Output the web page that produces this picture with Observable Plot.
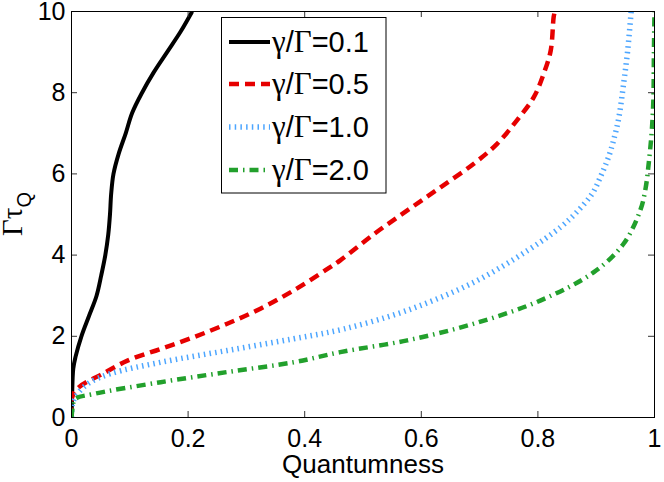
<!DOCTYPE html>
<html>
<head>
<meta charset="utf-8">
<script src="https://cdn.jsdelivr.net/npm/d3@7"></script>
<script src="https://cdn.jsdelivr.net/npm/@observablehq/plot@0.6"></script>
<style>
  body { margin: 0; background: #fff; }
  #chart { width: 664px; height: 482px; }
</style>
</head>
<body>
<div id="chart"></div>
<script>
// ---- data ----
const xTicks = [0, 0.2, 0.4, 0.6, 0.8, 1];
const xTickLabels = ["0", "0.2", "0.4", "0.6", "0.8", "1"];
const yTicks = [0, 2, 4, 6, 8, 10];
const seriesLabels = ["0.1", "0.5", "1.0", "2.0"];
const seriesColors = ["#000000", "#e60000", "#4da6ff", "#22a02c"];

const q_01   = [0, 0.001, 0.003, 0.007, 0.017, 0.030, 0.043, 0.051, 0.058, 0.063, 0.066, 0.068, 0.072, 0.081, 0.093, 0.104, 0.121, 0.141, 0.164, 0.187, 0.207];
const tau_01 = [0, 0.5,   1.2,   1.5,   2.0,   2.5,   3.0,   3.5,   4.0,   4.5,   5.0,   5.5,   6.0,   6.5,   7.0,   7.5,   8.0,   8.5,   9.0,   9.5,   10];

const q_05   = [0, 0.001, 0.013, 0.05, 0.096, 0.153, 0.21, 0.267, 0.324, 0.381, 0.439, 0.461, 0.519, 0.576, 0.633, 0.690, 0.730, 0.764, 0.793, 0.810, 0.822, 0.827, 0.829];
const tau_05 = [0, 0.5,   0.75,  1.05, 1.40,  1.69,  1.98, 2.31,  2.68,  3.13,  3.66,  3.87,  4.52,  5.10,  5.67,  6.25,  6.74,  7.32,  7.89,  8.47,  9.04,  9.86,  10];

const q_10   = [0, 0.002, 0.01, 0.03, 0.067, 0.153, 0.267, 0.381, 0.467, 0.576, 0.690, 0.782, 0.839, 0.866, 0.893, 0.908, 0.922, 0.932, 0.939, 0.947, 0.954, 0.960];
const tau_10 = [0, 0.35,  0.58, 0.85, 1.08,  1.36,  1.65,  1.94,  2.18,  2.64,  3.33,  4.11,  4.69,  5.05,  5.51,  5.95,  6.45,  6.95,  7.40,  8.22,  9.04,  10];

const q_20   = [0, 0.002, 0.006, 0.038, 0.153, 0.267, 0.381, 0.461, 0.576, 0.690, 0.804, 0.896, 0.947, 0.976, 0.985, 0.990, 0.995, 0.998, 0.999, 1.0];
const tau_20 = [0, 0.25,  0.45,  0.58,  0.87,  1.12,  1.36,  1.61,  1.90,  2.31,  2.88,  3.58,  4.28,  5.12,  5.67,  6.25,  7.0,   7.8,   9.0,   10];

const quant = [q_01, q_05, q_10, q_20];
const taus = [tau_01, tau_05, tau_10, tau_20];

// ---- styles ----
const lineStyles = [
  { strokeWidth: 4, strokeDasharray: null },
  { strokeWidth: 4.5, strokeDasharray: "10,6" },
  { strokeWidth: 5.5, strokeDasharray: "1.5,4.2" },
  { strokeWidth: 4.5, strokeDasharray: "9,5,1.5,5" }
];

const W = 664, H = 482, mL = 71, mR = 10, mT = 11, mB = 65;
const tickLen = 6;
const dyTick = tickLen * (yTicks[yTicks.length - 1] - yTicks[0]) / (H - mT - mB);
const dxTick = tickLen * (xTicks[xTicks.length - 1] - xTicks[0]) / (W - mL - mR);

const rows = seriesLabels.flatMap((s, i) => quant[i].map((q, j) => ({ series: s, q, t: taus[i][j] })));

const lineMarks = seriesLabels.map((s, i) =>
  Plot.line(rows.filter(d => d.series === s), {
    x: "q", y: "t",
    stroke: seriesColors[i],
    strokeWidth: lineStyles[i].strokeWidth,
    strokeDasharray: lineStyles[i].strokeDasharray,
    strokeLinecap: "butt",
    strokeLinejoin: "round",
    curve: "catmull-rom",
    clip: true
  })
);

const plot = Plot.plot({
  width: W, height: H,
  marginLeft: mL, marginRight: mR, marginTop: mT, marginBottom: mB,
  style: { fontFamily: "'Liberation Sans', Arial, sans-serif", fontSize: "25px", background: "#fff", color: "#000" },
  x: { domain: [0, 1], ticks: xTicks, tickFormat: (d) => xTickLabels[xTicks.indexOf(d)], tickSize: 0, tickPadding: 12, label: null },
  y: { domain: [0, 10], ticks: yTicks, tickSize: 0, tickPadding: 6, label: null },
  marks: [
    ...lineMarks,
    Plot.ruleX(xTicks, { x: d => d, y1: 0, y2: dyTick, stroke: "#333" }),
    Plot.ruleX(xTicks, { x: d => d, y1: 10 - dyTick, y2: 10, stroke: "#333" }),
    Plot.ruleY(yTicks, { y: d => d, x1: 0, x2: dxTick, stroke: "#333" }),
    Plot.ruleY(yTicks, { y: d => d, x1: 1 - dxTick, x2: 1, stroke: "#333" }),
    Plot.frame({ stroke: "#000", strokeWidth: 1 }),
    Plot.text(["Quantumness"], { frameAnchor: "bottom", dy: 47, fontSize: 26, lineAnchor: "middle" })
  ]
});

document.getElementById("chart").appendChild(plot);

// ---- y-axis label with subscript ----
const svg = d3.select(plot);
const ylab = svg.append("text")
  .attr("transform", `translate(22, ${(mT + H - mB) / 2}) rotate(-90)`)
  .attr("text-anchor", "middle")
  .attr("fill", "#000");
ylab.append("tspan").attr("font-family", "'Liberation Serif', 'Times New Roman', serif").attr("font-size", 29).text("Γτ");
ylab.append("tspan").attr("font-family", "'Liberation Sans', Arial, sans-serif").attr("font-size", 20).attr("dy", 9).text("Q");

// ---- legend ----
const lg = svg.append("g");
lg.append("rect").attr("x", 221.5).attr("y", 17.5).attr("width", 164.5).attr("height", 175.5)
  .attr("fill", "#fff").attr("stroke", "#000").attr("stroke-width", 1);
const rowY = [42, 84, 127, 170];
seriesLabels.forEach((s, i) => {
  lg.append("line").attr("x1", 229).attr("x2", 270).attr("y1", rowY[i]).attr("y2", rowY[i])
    .attr("stroke", seriesColors[i]).attr("stroke-width", lineStyles[i].strokeWidth)
    .attr("stroke-linecap", "butt")
    .attr("stroke-dasharray", lineStyles[i].strokeDasharray);
  const t = lg.append("text").attr("x", 272).attr("y", rowY[i] + 10)
    .attr("text-anchor", "start").attr("font-size", 29).attr("fill", "#000");
  t.append("tspan").attr("font-family", "'Liberation Serif', serif").attr("font-size", 31).text("γ");
  t.append("tspan").attr("font-family", "'Liberation Sans', Arial, sans-serif").text("/");
  t.append("tspan").attr("font-family", "'Liberation Serif', serif").attr("font-size", 31).text("Γ");
  t.append("tspan").attr("font-family", "'Liberation Sans', Arial, sans-serif").text("=" + s);
});
</script>
</body>
</html>
